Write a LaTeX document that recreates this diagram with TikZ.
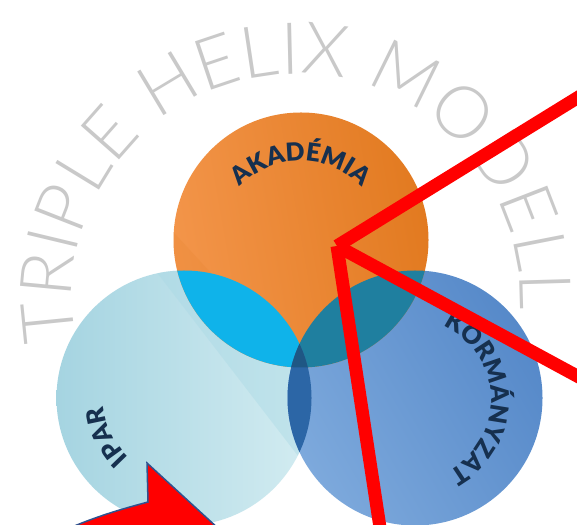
\documentclass[tikz,border=0pt]{standalone}
\usepackage{fontspec}
\setmainfont{Lato}
\IfFontExistsTF{Lato Light}
  {\newfontfamily\helixfont{Lato Light}}
  {\newfontfamily\helixfont{Lato}}
\IfFontExistsTF{Lato Black}
  {\newfontfamily\labelfont{Lato Black}}
  {\newfontfamily\labelfont{Lato}[UprightFont=*-Bold]}
\usetikzlibrary{decorations.text}

\definecolor{helixgray}{HTML}{C9C9C9}
\definecolor{labelnavy}{HTML}{16304F}
\definecolor{akaLight}{HTML}{F3954A}
\definecolor{akaDark}{HTML}{E27A20}
\definecolor{iparLeft}{HTML}{A5D4E1}
\definecolor{iparRight}{HTML}{D3ECF1}
\definecolor{iparBand}{HTML}{A8D8E4}
\definecolor{kormLight}{HTML}{7DA9DC}
\definecolor{kormDark}{HTML}{5689C9}
\definecolor{cyanOverlap}{HTML}{0FB3EA}
\definecolor{tealOverlap}{HTML}{1F7F9F}
\definecolor{lensBlue}{HTML}{2C66A6}
\definecolor{coreBlue}{HTML}{1F5784}
\definecolor{pointerRed}{HTML}{FF0000}
\definecolor{pointerEdge}{HTML}{2F528F}

\tikzset{
  redline/.style={draw=pointerRed, line width=13pt, line cap=butt},
}

\begin{document}
\begin{tikzpicture}[x=1pt,y=1pt]
\useasboundingbox (0,0) rectangle (577,524);
\clip (0,0) rectangle (577,524);
\fill[white] (0,0) rectangle (577,524);

% circle centres
\coordinate (cA) at (301,284);   % Akademia
\coordinate (cI) at (184,126);   % Ipar
\coordinate (cK) at (415,126);   % Kormanyzat
\coordinate (cH) at (296,226);   % title arc

% --- base discs
\shade[left color=iparLeft, right color=iparRight] (cI) circle (127.5);
\begin{scope}
  \clip (cI) circle (127.5);
  \fill[iparBand, opacity=0.4] (75,358) -- (375,-32) -- (600,-32) -- (600,600) -- (75,600) -- cycle;
\end{scope}
\shade[left color=kormLight, right color=kormDark, shading angle=120] (cK) circle (127.5);
\shade[left color=akaLight, right color=akaDark, shading angle=100] (cA) circle (127.5);
\begin{scope}
  \clip (cA) circle (127.5);
  \fill[akaDark, opacity=0.15] (27,451.5) -- (427,15.5) -- (27,15.5) -- cycle;
\end{scope}

% --- overlaps
\begin{scope}
  \clip (cA) circle (127.5);
  \fill[cyanOverlap] (cI) circle (127.5);
  \fill[tealOverlap] (cK) circle (127.5);
\end{scope}
\begin{scope}
  \clip (cI) circle (127.5);
  \fill[lensBlue] (cK) circle (127.5);
  \clip (cK) circle (127.5);
  \fill[coreBlue] (cA) circle (127.5);
\end{scope}

% --- title along the outer arc
\path[decorate, decoration={text along path, text align=fit to path,
      text color=helixgray,
      text={|\helixfont\fontsize{72}{72}\selectfont|TRIPLE HELIX MODELL}}]
  (cH) ++(191:224) arc[start angle=191, end angle=-3, radius=224];

% --- circle labels
\path[decorate, decoration={text along path, text align=center,
      text color=labelnavy,
      text={|\labelfont\fontsize{25}{25}\selectfont|AKADÉMIA}}]
  (301,279) ++(150:84) arc[start angle=150, end angle=30, radius=84];
\path[decorate, decoration={text along path, text align=center,
      text color=labelnavy,
      text={|\labelfont\fontsize{25}{25}\selectfont|KORMÁNYZAT}}]
  (410,124) ++(82:81) arc[start angle=82, end angle=-78, radius=81];
\path[decorate, decoration={text along path, text align=center,
      text color=labelnavy,
      text={|\labelfont\fontsize{25}{25}\selectfont|IPAR}}]
  (cI) ++(240:81) arc[start angle=240, end angle=173, radius=81];

% --- red pointer lines
\coordinate (hub) at (337,278);
\coordinate (e1) at (590,434);
\coordinate (e2) at (590,141);
\coordinate (e3) at (381,-10);
\draw[redline] (hub) -- (e1);
\draw[redline] (hub) -- (e2);
\draw[redline] (hub) -- (e3);

% --- red block arrow
\filldraw[fill=pointerRed, draw=pointerEdge, line width=1.5pt, line join=miter]
  (147,61) -- (148,22) .. controls (122,15) and (97,8) .. (65,-6)
  -- (220,-6) -- cycle;
\end{tikzpicture}
\end{document}
